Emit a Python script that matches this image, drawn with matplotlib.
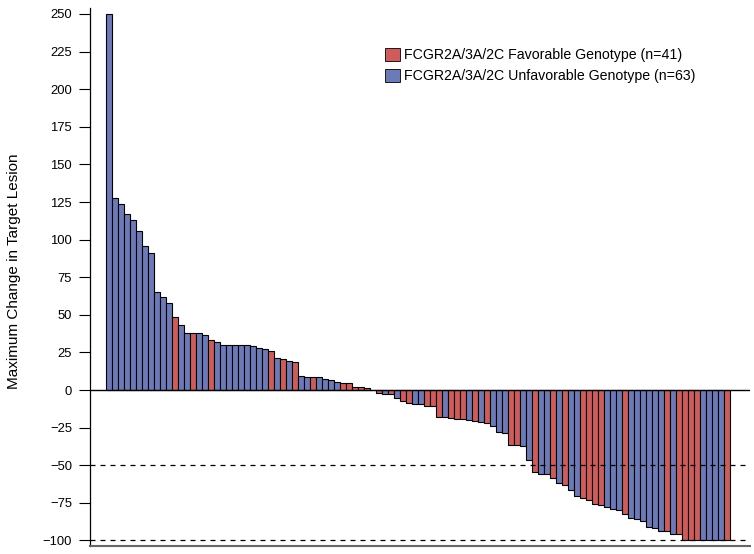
import numpy as np
import matplotlib.pyplot as plt
from matplotlib.patches import Patch

plt.rcParams["font.family"] = ["Liberation Sans", "DejaVu Sans"]

# maximum change in target lesion, sorted (waterfall)
values = [
    250, 128, 124, 117, 113, 106, 96, 91, 65, 62, 58, 48.5, 43, 38, 38, 38,
    36.6, 33, 32, 30, 30, 30, 30, 30, 29, 28, 27, 26, 21, 20.5, 19.5, 18.6,
    9.3, 8.6, 8.6, 8.6, 7.5, 6.6, 5.5, 4.4, 4.4, 2.2, 2, 1.5, 0, -2.2,
    -2.7, -2.7, -5.5, -7.5, -8.9, -9.5, -9.5, -10.5, -10.5, -17.7, -18.2, -18.6,
    -19, -19.4, -20, -20.3, -21, -21.7, -24, -27.7, -28.4, -36.6, -36.6, -37,
    -46.5, -54.5, -55.8, -56, -58.8, -62, -63, -66.5, -70.5, -72, -73, -76,
    -76.5, -78, -78.8, -80, -82.5, -85, -86, -87, -91, -91.5, -93.5, -94,
    -95.5, -96, -100, -100, -100, -100, -100, -100, -100, -100,
]
# F = favorable genotype, U = unfavorable genotype
genotype = (
    "UUUUUUUUUUUFUUFUUFUUUUUUUUUFUFUF"
    "UUFUUUUFFFFFFFUFUFFUUFFFUFFFUF"
    "UFUUUFFUUFUUFUFUUFFFFUUUFUUUUUUFUFFFFUUUUF"
)
labels = [
    "FCGR2A/3A/2C Favorable Genotype (n=41)",
    "FCGR2A/3A/2C Unfavorable Genotype (n=63)",
]
yticks = np.arange(-100, 251, 25)

red = "#d05b5b"
blue = "#6c7bb7"

fig = plt.figure(figsize=(7.54, 5.54), dpi=100)
ax = fig.add_axes([0.1194, 0.0144, 0.8753, 0.9712])

x = np.arange(len(values))
colors = [red if g == "F" else blue for g in genotype]
ax.bar(x, values, width=1.0, color=colors, edgecolor="black", linewidth=0.8)

ax.axhline(0, color="black", linewidth=1.0)
ax.axhline(-50, color="black", linewidth=0.9, linestyle=(0, (4, 4)))
ax.axhline(-100, color="black", linewidth=0.9, linestyle=(0, (4, 4)))

ax.set_xlim(-3.17, 106.8)
ax.set_ylim(-103.7, 254)
ax.set_yticks(yticks)
ax.set_xticks([])
ax.tick_params(axis="y", direction="out", length=8, width=0.8, labelsize=9.4, pad=5)

for s in ["top", "right"]:
    ax.spines[s].set_visible(False)
ax.spines["left"].set_linewidth(0.9)
ax.spines["bottom"].set_color("#666666")
ax.spines["bottom"].set_linewidth(1.5)

ax.set_ylabel("Maximum Change in Target Lesion", fontsize=11)
ax.yaxis.set_label_coords(-0.1045, 0.51)

handles = [
    Patch(facecolor=red, edgecolor="black", linewidth=0.6),
    Patch(facecolor=blue, edgecolor="black", linewidth=0.6),
]
fig.legend(
    handles, labels, loc="upper left",
    bbox_to_anchor=(385 / 754, 1 - 48 / 554),
    frameon=False, fontsize=10.2, handlelength=1.05, handleheight=1.0,
    handletextpad=0.3, labelspacing=0.47, borderpad=0, borderaxespad=0,
)

fig.savefig("out.png", dpi=100)
